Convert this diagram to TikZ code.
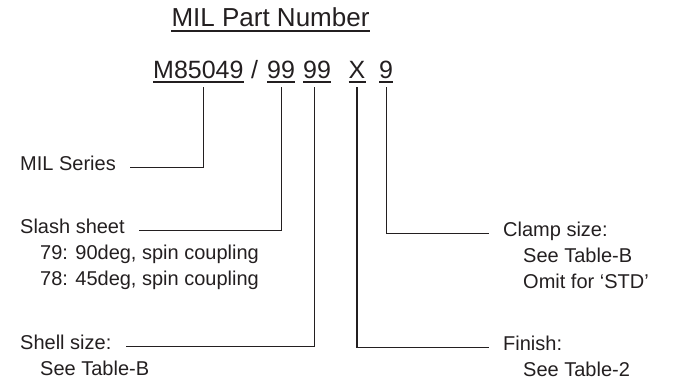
\documentclass[tikz,border=0pt]{standalone}
\usepackage{fontspec}
\setmainfont{Liberation Sans}
\usetikzlibrary{positioning}
\definecolor{cink}{HTML}{231F20}

\begin{document}
\begin{tikzpicture}[
  x=1pt, y=1pt,
  font=\fontsize{20}{26}\selectfont, text=cink,
  pn/.style={font=\fontsize{25}{30}\selectfont, inner sep=0pt, text depth=4pt, anchor=base west},
  lbl/.style={inner sep=0pt, anchor=base west, align=left},
  uline/.style={draw=cink, line width=2pt},
  lead/.style={draw=cink, line width=1.1pt, shorten <=5pt, shorten >=14pt}
]
\useasboundingbox (0,0) rectangle (673,-380);
% heading and part number
\node[pn, anchor=base, font=\fontsize{26}{31}\selectfont] (title) at (270.5,-27) {MIL Part Number};
\node[pn] (pnSer) at (153,-78)   {M85049};
\node[pn] (slsh)  at (251,-78)   {/};
\node[pn] (pnSh)  at (267,-78)   {99};
\node[pn] (pnSz)  at (303,-78)   {99\hspace{9pt}};
\node[pn] (pnFin) at (348.5,-78) {X};
\node[pn] (pnCl)  at (379,-78)   {9\hspace{9pt}};
\foreach \n in {title,pnSer,pnSh,pnSz,pnFin,pnCl}
  \draw[uline] (\n.south west) -- (\n.south east);
% labels (multi-line ones sit on their last baseline)
\node[lbl] (series) at (20,-170)  {MIL Series};
\node[lbl] (slash)  at (20,-233)  {Slash sheet};
\node[lbl] (slashinfo) at (40,-285) {79: 90deg, spin coupling\\78: 45deg, spin coupling};
\node[lbl] (shell)  at (20,-349)  {Shell size:};
\node[lbl] (shellinfo) at (40,-375) {See Table-B};
\node[lbl] (clamp)  at (503,-236) {Clamp size:};
\node[lbl] (clampinfo) at (523,-288) {See Table-B\\Omit for `STD'};
\node[lbl] (finish) at (503,-350) {Finish:};
\node[lbl] (finishinfo) at (523,-376) {See Table-2};
% leaders
\draw[lead] ([xshift=5pt]pnSer.south) |- (series.mid east);
\draw[lead] (pnSh.south) |- (slash.mid east);
\draw[lead] ([xshift=-2.5pt]pnSz.south) |- (shell.mid east);
\draw[lead] (pnFin.south) |- (finish.mid west);
\draw[lead] (pnCl.south) |- (clamp.mid west);
\end{tikzpicture}
\end{document}
